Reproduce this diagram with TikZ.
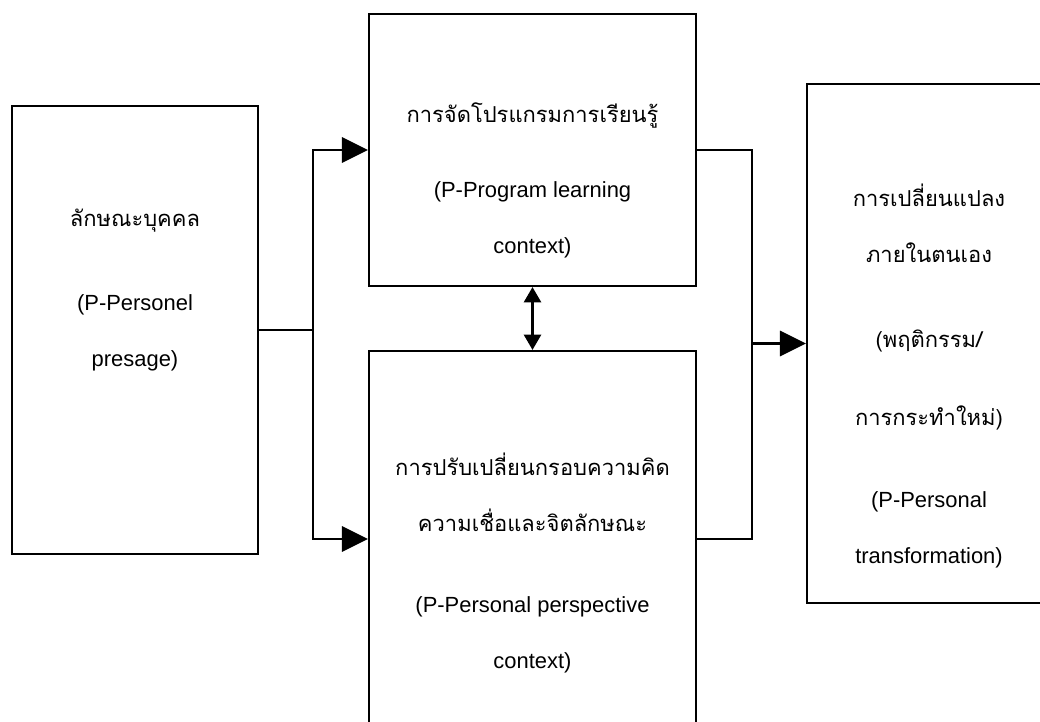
\documentclass[tikz,border=0pt]{standalone}
\usepackage{fontspec}
\setmainfont{Liberation Sans}
\newfontfamily\thaifont[Script=Thai]{Loma}
\usetikzlibrary{arrows.meta}

\begin{document}
\begin{tikzpicture}[box/.style ={draw,line width=1.5pt,inner sep=0pt},
  lbl/.style ={align=center,font=\fontsize{15.6pt}{1.4cm}\selectfont},
  arr/.style ={line width=2pt,-{Triangle[length=0.65cm,width=0.63cm]}},
  dbl/.style ={line width=2pt,{Triangle[length=0.38cm,width=0.42cm]}-{Triangle[length=0.38cm,width=0.42cm]}}]

\clip (0,0) rectangle (26,-18.05);

\node[box,minimum width=6.15cm,minimum height=11.2cm] (pers) at (3.375,-8.25) {};
\node[box,minimum width=8.175cm,minimum height=6.8cm] (prog) at (13.3125,-3.75) {};
\node[box,minimum width=8.175cm,minimum height=9.4cm] (persp) at (13.3125,-13.475) {};
\node[box,minimum width=6.1cm,minimum height=12.975cm] (trans) at (23.225,-8.5875) {};

\node[lbl] (perstext) at (3.375,-7.25) {{\thaifont ลักษณะบุคคล}\\[0.68cm] (P-Personel\\ presage)};
\node[lbl] (progtext) at (13.3125,-4.5) {{\thaifont การจัดโปรแกรมการเรียนรู้}\\[0.48cm] (P-Program learning\\ context)};
\node[lbl] (persptext) at (13.3125,-14.075) {{\thaifont การปรับเปลี่ยนกรอบความคิด}\\ {\thaifont ความเชื่อและจิตลักษณะ}\\[0.63cm] (P-Personal perspective\\ context)};
\node[lbl] (transtext) at (23.225,-9.4) {{\thaifont การเปลี่ยนแปลง}\\ {\thaifont ภายในตนเอง}\\[0.72cm] {\thaifont (พฤติกรรม/}\\[0.55cm] {\thaifont การกระทำใหม่)}\\[0.65cm] (P-Personal\\ transformation)};

\coordinate (split) at (7.825,-8.25);
\coordinate (join) at (18.8,-8.5875);

\draw [line width=2pt] (pers.east) -- (split);
\draw [arr] (split) |- (prog.west);
\draw [arr] (split) |- (persp.west);
\draw [dbl] (prog.south) -- (persp.north);

\draw [line width=2pt] (prog.east) -| (join);
\draw [line width=2pt] (persp.east) -| (join);
\draw [arr] (join) -- (trans.west);
\end{tikzpicture}
\end{document}
